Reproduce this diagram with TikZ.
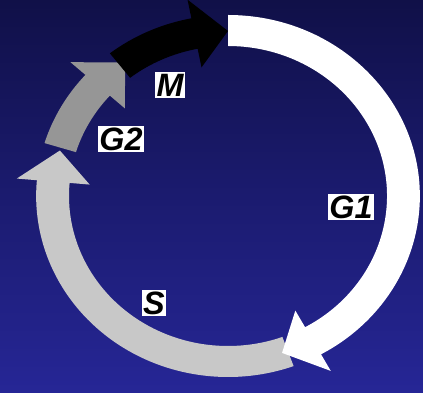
\documentclass[tikz,border=0pt]{standalone}
\usepackage{fontspec}
\setmainfont{Liberation Sans}

\definecolor{bgtop}{RGB}{16,16,72}
\definecolor{bgbottom}{RGB}{38,38,150}
\definecolor{sgray}{RGB}{200,200,200}
\definecolor{gtwogray}{RGB}{150,150,150}

% colour, start angle, head base angle, tip angle
\newcommand{\phasearrow}[4]{%
  \fill[#1] (#2:181) arc[start angle=#2, end angle=#3, radius=181]
    -- (#3:200) -- (#4:165) -- (#3:131) -- (#3:150)
    arc[start angle=#3, end angle=#2, radius=150] -- cycle;}

\tikzset{
  phaselabel/.style={fill=white, text=black, inner xsep=1.5pt, inner ysep=2pt,
    font=\fontsize{46}{46}\selectfont\bfseries\itshape}
}

\begin{document}
\begin{tikzpicture}[x=0.5mm,y=0.5mm]
  \fill[top color=bgtop,bottom color=bgbottom] (0,0) rectangle (423,393);
  \useasboundingbox (0,0) rectangle (423,393);

  \begin{scope}[shift={(228,197)},xscale=1.06]
    \phasearrow{sgray}{-70}{-185}{-196}
    \phasearrow{white}{90}{-61}{-72}
    \phasearrow{gtwogray}{163}{138}{126}
    \phasearrow{black}{128}{101}{90}
  \end{scope}

  \node[phaselabel] (m) at (170,308) {M};
  \node[phaselabel] (g2) at (121,254) {G2};
  \node[phaselabel] (g1) at (351,186) {G1};
  \node[phaselabel] (s) at (154,90) {S};
\end{tikzpicture}
\end{document}
